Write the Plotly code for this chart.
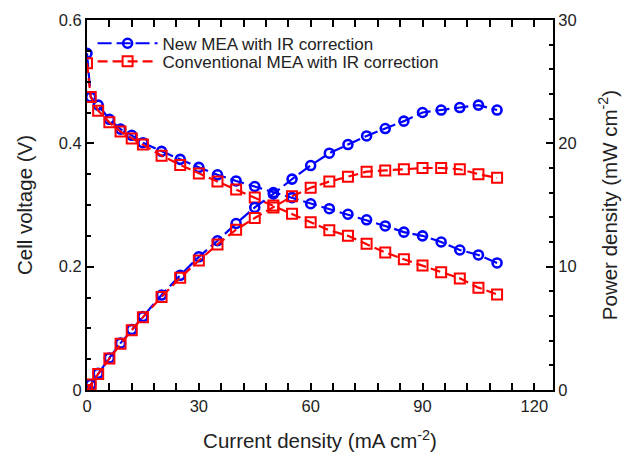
import plotly.graph_objects as go

# Current density (mA cm^-2)
current = [0, 1, 3, 6, 9, 12, 15, 20, 25, 30, 35, 40, 45, 50, 55,
           60, 65, 70, 75, 80, 85, 90, 95, 100, 105, 110]

# Cell voltage (V)
v_new = [0.546, 0.475, 0.462, 0.439, 0.423, 0.413, 0.401, 0.387, 0.374, 0.361,
         0.349, 0.339, 0.330, 0.320, 0.312, 0.302, 0.294, 0.285, 0.276, 0.266,
         0.256, 0.250, 0.240, 0.227, 0.219, 0.206]
v_conv = [0.530, 0.475, 0.453, 0.434, 0.419, 0.408, 0.398, 0.380, 0.365, 0.351,
          0.338, 0.325, 0.312, 0.299, 0.286, 0.272, 0.259, 0.250, 0.237, 0.223,
          0.212, 0.202, 0.191, 0.181, 0.166, 0.155]

# Power density (mW cm^-2)
p_new = [0.0, 0.45, 1.35, 2.6, 3.8, 4.9, 5.95, 7.7, 9.3, 10.8, 12.1, 13.5,
         14.8, 15.9, 17.1, 18.2, 19.2, 19.9, 20.6, 21.2, 21.8, 22.5, 22.7,
         22.9, 23.1, 22.7]
p_conv = [0.0, 0.45, 1.3, 2.55, 3.75, 4.85, 5.9, 7.55, 9.1, 10.5, 11.8, 13.0,
          13.95, 14.8, 15.7, 16.4, 16.9, 17.3, 17.7, 17.8, 17.9, 18.0, 18.0,
          17.9, 17.5, 17.2]

BLUE = "#0000ff"
RED = "#ff0000"
FONT = "Arial, Liberation Sans, sans-serif"
TEXT = "#222"

blue_marker = dict(symbol="circle-open", size=9, color=BLUE, line=dict(width=2.6, color=BLUE))
red_marker = dict(symbol="square-open", size=10, color=RED, line=dict(width=2, color=RED))
blue_line = dict(color=BLUE, width=2.2, dash="14px,5px")
red_line = dict(color=RED, width=2.2, dash="10px,5px")

fig = go.Figure()
fig.add_trace(go.Scatter(x=current, y=v_new, mode="lines+markers", name="New MEA with IR correction",
                         line=blue_line, marker=blue_marker, yaxis="y", legend="legend"))
fig.add_trace(go.Scatter(x=current, y=v_conv, mode="lines+markers",
                         name="Conventional MEA with IR correction",
                         line=red_line, marker=red_marker, yaxis="y", legend="legend2"))
fig.add_trace(go.Scatter(x=current, y=p_new, mode="lines+markers", showlegend=False,
                         line=blue_line, marker=blue_marker, yaxis="y2"))
fig.add_trace(go.Scatter(x=current, y=p_conv, mode="lines+markers", showlegend=False,
                         line=red_line, marker=red_marker, yaxis="y2"))

axis_common = dict(
    showline=True, linecolor="black", linewidth=2,
    ticks="inside", ticklen=7, tickwidth=2, tickcolor="black",
    showgrid=False, zeroline=False, automargin=False,
    tickfont=dict(family=FONT, size=16.5, color=TEXT),
)
title_font = dict(family=FONT, size=20.5, color=TEXT)
legend_common = dict(x=0.012, xanchor="left", yanchor="middle", bgcolor="rgba(0,0,0,0)",
                     font=dict(family=FONT, size=17, color=TEXT), itemwidth=60)

fig.update_layout(
    width=634, height=453,
    margin=dict(l=87, r=81, t=20, b=63),
    paper_bgcolor="white", plot_bgcolor="white",
    font=dict(family=FONT, color=TEXT),
    xaxis=dict(
        **axis_common, range=[0, 125], tickvals=[0, 30, 60, 90, 120], mirror="allticks",
        minor=dict(dtick=6, tick0=0, ticks="inside", ticklen=4, tickwidth=2, tickcolor="black"),
        title=dict(text="Current density (mA cm<sup>-2</sup>)", font=title_font, standoff=20),
    ),
    yaxis=dict(
        **axis_common, range=[0, 0.6], tickvals=[0, 0.2, 0.4, 0.6], ticktext=["0", "0.2", "0.4", "0.6"],
        minor=dict(dtick=0.05, tick0=0, ticks="inside", ticklen=4, tickwidth=2, tickcolor="black"),
        title=dict(text="Cell voltage (V)", font=title_font, standoff=21),
    ),
    yaxis2=dict(
        **axis_common, range=[0, 30], tickvals=[0, 10, 20, 30], overlaying="y", side="right",
        minor=dict(dtick=2, tick0=0, ticks="inside", ticklen=4, tickwidth=2, tickcolor="black"),
        title=dict(text="Power density (mW cm<sup>-2</sup>)", font=title_font, standoff=27),
    ),
    legend=dict(**legend_common, y=0.936),
    legend2=dict(**legend_common, y=0.887),
)

fig.write_html("out.html")
